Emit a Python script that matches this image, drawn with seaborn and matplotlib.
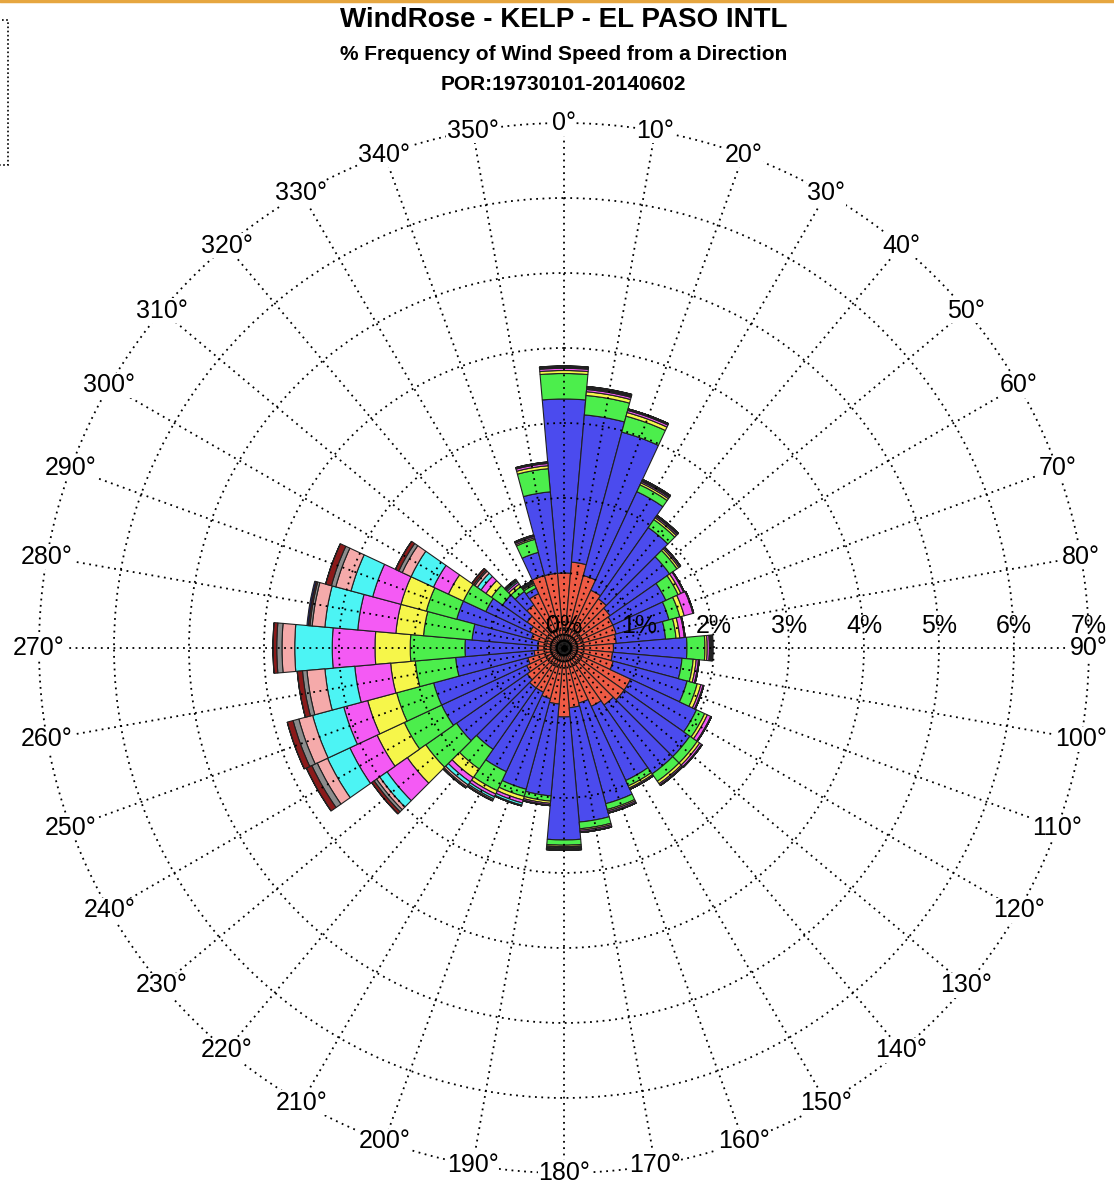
import numpy as np
import pandas as pd
import matplotlib
matplotlib.use('Agg')
import matplotlib.pyplot as plt
import seaborn as sns
from matplotlib.patches import Rectangle
from matplotlib.lines import Line2D

# Wind directions (deg, from north, clockwise)
directions = np.arange(0, 360, 10)

# % frequency per speed class (one value per direction), innermost class first
spd1 = [1.00, 1.15, 1.00, 0.85, 0.80, 0.75, 0.72, 0.72, 0.70, 0.66, 0.65, 0.68,
        0.98, 0.98, 0.93, 0.86, 0.76, 0.80, 0.92, 0.75, 0.70, 0.65, 0.65, 0.60,
        0.55, 0.50, 0.40, 0.35, 0.35, 0.45, 0.50, 0.60, 0.70, 0.80, 1.00, 1.00]
spd2 = [2.32, 1.97, 1.98, 1.45, 1.16, 0.97, 0.78, 0.73, 0.66, 0.98, 0.93, 1.02,
        0.97, 1.07, 1.12, 1.09, 1.39, 1.53, 1.64, 1.23, 1.25, 1.17, 1.00, 1.15,
        1.25, 1.30, 1.05, 0.97, 0.88, 1.03, 0.65, 0.40, 0.22, 0.08, 0.32, 1.09]
spd3 = [0.34, 0.26, 0.22, 0.10, 0.13, 0.12, 0.18, 0.15, 0.14, 0.24, 0.15, 0.14,
        0.12, 0.12, 0.12, 0.08, 0.08, 0.09, 0.07, 0.07, 0.10, 0.28, 0.32, 0.50,
        0.55, 0.51, 0.54, 0.73, 0.65, 0.42, 0.33, 0.18, 0.08, 0.05, 0.18, 0.31]
spd4 = [0.04, 0.05, 0.05, 0.03, 0.03, 0.03, 0.04, 0.06, 0.05, 0.03, 0.04, 0.05,
        0.04, 0.04, 0.04, 0.03, 0.02, 0.02, 0.02, 0.03, 0.05, 0.05, 0.14, 0.30,
        0.40, 0.40, 0.33, 0.47, 0.37, 0.35, 0.22, 0.09, 0.04, 0.02, 0.02, 0.04]
spd5 = [0.03, 0.03, 0.03, 0.02, 0.02, 0.02, 0.04, 0.12, 0.06, 0.03, 0.03, 0.03,
        0.05, 0.03, 0.02, 0.02, 0.02, 0.02, 0.01, 0.02, 0.04, 0.04, 0.07, 0.33,
        0.40, 0.33, 0.48, 0.57, 0.51, 0.39, 0.22, 0.08, 0.03, 0.01, 0.02, 0.03]
spd6 = [0.01, 0.01, 0.01, 0.01, 0.01, 0.01, 0.01, 0.01, 0.01, 0.01, 0.01, 0.01,
        0.01, 0.01, 0.01, 0.00, 0.01, 0.01, 0.01, 0.01, 0.03, 0.03, 0.05, 0.12,
        0.33, 0.43, 0.40, 0.50, 0.44, 0.30, 0.33, 0.06, 0.02, 0.01, 0.01, 0.01]
spd7 = [0.01, 0.01, 0.01, 0.01, 0.01, 0.00, 0.00, 0.00, 0.00, 0.01, 0.00, 0.00,
        0.00, 0.00, 0.00, 0.00, 0.00, 0.00, 0.01, 0.00, 0.01, 0.02, 0.03, 0.05,
        0.15, 0.19, 0.24, 0.17, 0.17, 0.21, 0.13, 0.04, 0.01, 0.01, 0.00, 0.00]
spd8 = [0.00, 0.01, 0.00, 0.01, 0.00, 0.00, 0.00, 0.00, 0.00, 0.01, 0.00, 0.00,
        0.00, 0.00, 0.00, 0.00, 0.00, 0.00, 0.01, 0.00, 0.00, 0.01, 0.02, 0.04,
        0.08, 0.08, 0.06, 0.07, 0.03, 0.06, 0.05, 0.02, 0.01, 0.00, 0.00, 0.00]
spd9 = [0.01, 0.01, 0.00, 0.00, 0.00, 0.00, 0.00, 0.00, 0.00, 0.01, 0.00, 0.00,
        0.00, 0.00, 0.00, 0.00, 0.00, 0.00, 0.01, 0.00, 0.00, 0.00, 0.00, 0.04,
        0.08, 0.08, 0.07, 0.05, 0.02, 0.08, 0.05, 0.03, 0.01, 0.01, 0.01, 0.01]
spd10 = [0.00, 0.00, 0.00, 0.00, 0.00, 0.00, 0.00, 0.00, 0.00, 0.01, 0.00, 0.00,
         0.00, 0.00, 0.00, 0.00, 0.00, 0.00, 0.00, 0.00, 0.00, 0.00, 0.00, 0.00,
         0.00, 0.00, 0.00, 0.00, 0.02, 0.00, 0.00, 0.00, 0.00, 0.00, 0.00, 0.00]

speed_classes = [spd1, spd2, spd3, spd4, spd5, spd6, spd7, spd8, spd9, spd10]
bin_colors = ['#EE5A44', '#4B4BEE', '#4CEE4C', '#F6F64A', '#F45AF4',
              '#4CF4F4', '#F5AAAA', '#8C8C8C', '#8B1A1A', '#1A1A8B']

rose = pd.DataFrame({f'bin{i + 1}': v for i, v in enumerate(speed_classes)}, index=directions)

sns.set_theme(style='white')
plt.rcParams['font.family'] = ['Liberation Sans', 'DejaVu Sans']
plt.rcParams['text.color'] = 'black'
palette = sns.color_palette(bin_colors)

fig = plt.figure(figsize=(11.14, 11.87), dpi=100)
ax = fig.add_axes([0.0350, 0.0118, 0.9425, 0.8846], projection='polar')
ax.set_theta_zero_location('N')
ax.set_theta_direction(-1)

theta = np.deg2rad(rose.index.values)
bottom = np.zeros(len(rose))
for col, c in zip(rose.columns, palette):
    ax.bar(theta, rose[col].values, width=np.deg2rad(10), bottom=bottom,
           color=c, edgecolor='#202020', linewidth=0.8, align='center')
    bottom += rose[col].values

# small rings at the centre
t = np.linspace(0, 2 * np.pi, 300)
for r in [0.055, 0.11, 0.17, 0.24]:
    ax.plot(t, np.full_like(t, r), color='#111111', lw=1.3, ls=(0, (1, 1)))
ax.plot([0], [0], 'o', color='black', ms=4)

dots = (0, (1, 2.5))
ax.set_ylim(0, 7)
ax.set_rgrids(np.arange(1, 7), labels=[''] * 6)
ax.set_thetagrids(directions, labels=[''] * 36)
ax.grid(True, color='black', linestyle=dots, linewidth=1.3)
ax.set_axisbelow(False)
ax.spines['polar'].set_visible(False)
# outer 7% ring, unclipped so it keeps full width
ax.plot(t, np.full_like(t, 7.0), color='black', lw=1.3, ls=dots, clip_on=False, zorder=3)

for d in directions:
    ax.text(np.deg2rad(d), 7.0, f'{d}°', ha='center', va='center', fontsize=18,
            color='black', bbox=dict(facecolor='white', edgecolor='none', pad=0.3), zorder=5)

for k in range(8):
    ax.annotate(f'{k}%', xy=(np.pi / 2, k), xytext=(0, 15.5), textcoords='offset points',
                ha='center', va='center', fontsize=18, color='black', zorder=5)

fig.text(0.506, 0.983, 'WindRose - KELP - EL PASO INTL', ha='center', va='center',
         fontsize=20, fontweight='bold', color='black')
fig.text(0.506, 0.954, '% Frequency of Wind Speed from a Direction', ha='center',
         va='center', fontsize=15, fontweight='bold', color='black')
fig.text(0.506, 0.929, 'POR:19730101-20140602', ha='center', va='center',
         fontsize=15, fontweight='bold', color='black')

# clipped legend box at the top left and the frame line on top
fig.add_artist(Rectangle((-0.02, 0.861), 0.027, 0.122, transform=fig.transFigure,
                         fill=False, edgecolor='black', linestyle=(0, (1, 1.5)), lw=1.2))
fig.add_artist(Line2D([0, 1], [0.999, 0.999], transform=fig.transFigure,
                      color='#E6A640', lw=2.5))

fig.savefig('out.png', dpi=100)
